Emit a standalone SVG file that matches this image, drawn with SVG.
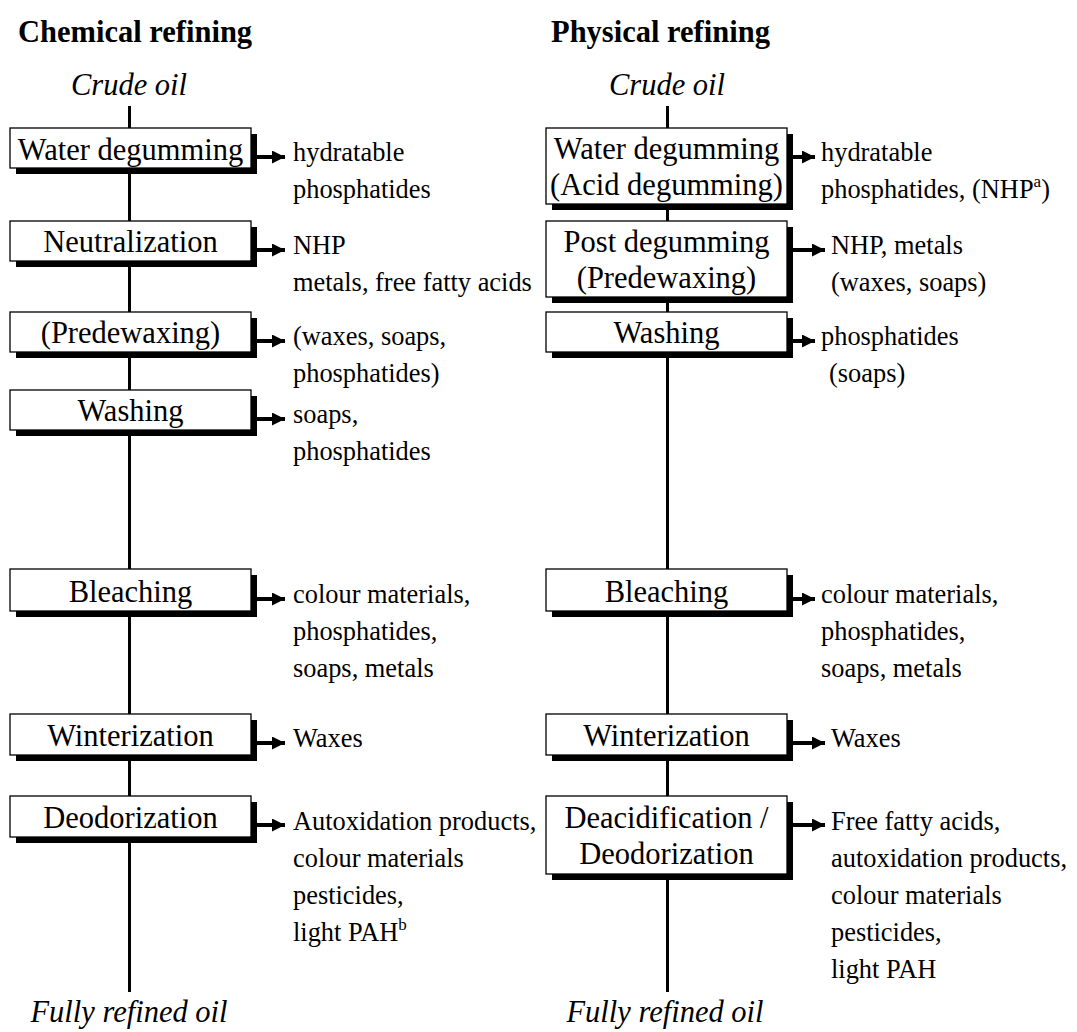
<svg xmlns="http://www.w3.org/2000/svg" width="1077" height="1032" viewBox="0 0 1077 1032">
<style>
.title{font-family:"Liberation Serif","Times New Roman",serif;font-weight:bold;font-size:30.5px;fill:#000}
.term{font-family:"Liberation Serif","Times New Roman",serif;font-style:italic;font-size:30.5px;fill:#000;text-anchor:middle}
.box{fill:#fff;stroke:#000;stroke-width:1.3}
.shadow{fill:#000}
.bt{font-family:"Liberation Serif","Times New Roman",serif;font-size:30.5px;fill:#000;text-anchor:middle}
.st{font-family:"Liberation Serif","Times New Roman",serif;font-size:26.4px;fill:#000}
.sup{font-size:17px}
.flow{stroke:#000;stroke-width:3;fill:none}
.arr{stroke:#000;stroke-width:4;fill:none;marker-end:url(#ah)}
</style>
<defs>
<marker id="ah" markerUnits="userSpaceOnUse" markerWidth="14" markerHeight="14" refX="13" refY="6.5" orient="auto">
<path d="M0,0 L13,6.5 L0,13 z" fill="#000"/>
</marker>
</defs>
<rect width="1077" height="1032" fill="#fff"/>
<text class="title" x="18" y="42">Chemical refining</text>
<text class="title" x="551" y="42">Physical refining</text>
<text class="term" x="129" y="95">Crude oil</text>
<text class="term" x="667" y="95">Crude oil</text>
<text class="term" x="129" y="1022">Fully refined oil</text>
<text class="term" x="665" y="1022">Fully refined oil</text>
<g id="connectors">
<line class="flow" x1="129.5" y1="106" x2="129.5" y2="992"/>
<line class="flow" x1="667.5" y1="106" x2="667.5" y2="992"/>
<line class="arr" x1="256" y1="157" x2="285" y2="157"/>
<line class="arr" x1="256" y1="250" x2="285" y2="250"/>
<line class="arr" x1="256" y1="341" x2="285" y2="341"/>
<line class="arr" x1="256" y1="419" x2="285" y2="419"/>
<line class="arr" x1="256" y1="599" x2="285" y2="599"/>
<line class="arr" x1="256" y1="743" x2="285" y2="743"/>
<line class="arr" x1="256" y1="825" x2="285" y2="825"/>
<line class="arr" x1="792" y1="157" x2="815" y2="157"/>
<line class="arr" x1="792" y1="250" x2="825" y2="250"/>
<line class="arr" x1="792" y1="341" x2="815" y2="341"/>
<line class="arr" x1="792" y1="599" x2="815" y2="599"/>
<line class="arr" x1="792" y1="743" x2="825" y2="743"/>
<line class="arr" x1="792" y1="825" x2="825" y2="825"/>
</g>
<g id="c-water-degumming">
<rect class="shadow" x="16" y="134" width="241" height="40"/>
<rect class="box" x="10" y="128" width="241" height="40"/>
<text class="bt" x="130.5" y="160">Water degumming</text>
<text class="st" x="293" y="161">hydratable</text>
<text class="st" x="293" y="198">phosphatides</text>
</g>
<g id="c-neutralization">
<rect class="shadow" x="16" y="227" width="241" height="40"/>
<rect class="box" x="10" y="221" width="241" height="40"/>
<text class="bt" x="130.5" y="252">Neutralization</text>
<text class="st" x="293" y="254">NHP</text>
<text class="st" x="293" y="291">metals, free fatty acids</text>
</g>
<g id="c-predewaxing">
<rect class="shadow" x="16" y="318" width="241" height="40"/>
<rect class="box" x="10" y="312" width="241" height="40"/>
<text class="bt" x="130.5" y="343">(Predewaxing)</text>
<text class="st" x="293" y="345">(waxes, soaps,</text>
<text class="st" x="293" y="382">phosphatides)</text>
</g>
<g id="c-washing">
<rect class="shadow" x="16" y="396" width="241" height="40"/>
<rect class="box" x="10" y="390" width="241" height="40"/>
<text class="bt" x="130.5" y="421">Washing</text>
<text class="st" x="293" y="423">soaps,</text>
<text class="st" x="293" y="460">phosphatides</text>
</g>
<g id="c-bleaching">
<rect class="shadow" x="16" y="575" width="241" height="42"/>
<rect class="box" x="10" y="569" width="241" height="42"/>
<text class="bt" x="130.5" y="602">Bleaching</text>
<text class="st" x="293" y="603">colour materials,</text>
<text class="st" x="293" y="640">phosphatides,</text>
<text class="st" x="293" y="677">soaps, metals</text>
</g>
<g id="c-winterization">
<rect class="shadow" x="16" y="720" width="241" height="41"/>
<rect class="box" x="10" y="714" width="241" height="41"/>
<text class="bt" x="130.5" y="746">Winterization</text>
<text class="st" x="293" y="747">Waxes</text>
</g>
<g id="c-deodorization">
<rect class="shadow" x="16" y="802" width="241" height="41"/>
<rect class="box" x="10" y="796" width="241" height="41"/>
<text class="bt" x="130.5" y="828">Deodorization</text>
<text class="st" x="293" y="830">Autoxidation products,</text>
<text class="st" x="293" y="867">colour materials</text>
<text class="st" x="293" y="904">pesticides,</text>
<text class="st" x="293" y="941">light PAH<tspan class="sup" dy="-11">b</tspan></text>
</g>
<g id="p-water-degumming">
<rect class="shadow" x="552" y="134" width="241" height="76"/>
<rect class="box" x="546" y="128" width="241" height="76"/>
<text class="bt" x="666.5" y="159">Water degumming</text>
<text class="bt" x="666.5" y="195">(Acid degumming)</text>
<text class="st" x="821" y="161">hydratable</text>
<text class="st" x="821" y="198">phosphatides, (NHP<tspan class="sup" dy="-11">a</tspan><tspan dy="11">)</tspan></text>
</g>
<g id="p-post-degumming">
<rect class="shadow" x="552" y="227" width="241" height="76"/>
<rect class="box" x="546" y="221" width="241" height="76"/>
<text class="bt" x="666.5" y="252">Post degumming</text>
<text class="bt" x="666.5" y="288">(Predewaxing)</text>
<text class="st" x="831" y="254">NHP, metals</text>
<text class="st" x="831" y="291">(waxes, soaps)</text>
</g>
<g id="p-washing">
<rect class="shadow" x="552" y="318" width="241" height="40"/>
<rect class="box" x="546" y="312" width="241" height="40"/>
<text class="bt" x="666.5" y="343">Washing</text>
<text class="st" x="821" y="345">phosphatides</text>
<text class="st" x="829" y="382">(soaps)</text>
</g>
<g id="p-bleaching">
<rect class="shadow" x="552" y="575" width="241" height="42"/>
<rect class="box" x="546" y="569" width="241" height="42"/>
<text class="bt" x="666.5" y="602">Bleaching</text>
<text class="st" x="821" y="603">colour materials,</text>
<text class="st" x="821" y="640">phosphatides,</text>
<text class="st" x="821" y="677">soaps, metals</text>
</g>
<g id="p-winterization">
<rect class="shadow" x="552" y="720" width="241" height="41"/>
<rect class="box" x="546" y="714" width="241" height="41"/>
<text class="bt" x="666.5" y="746">Winterization</text>
<text class="st" x="831" y="747">Waxes</text>
</g>
<g id="p-deodorization">
<rect class="shadow" x="552" y="802" width="241" height="78"/>
<rect class="box" x="546" y="796" width="241" height="78"/>
<text class="bt" x="666.5" y="828">Deacidification /</text>
<text class="bt" x="666.5" y="864">Deodorization</text>
<text class="st" x="831" y="830">Free fatty acids,</text>
<text class="st" x="831" y="867">autoxidation products,</text>
<text class="st" x="831" y="904">colour materials</text>
<text class="st" x="831" y="941">pesticides,</text>
<text class="st" x="831" y="978">light PAH</text>
</g>
</svg>
